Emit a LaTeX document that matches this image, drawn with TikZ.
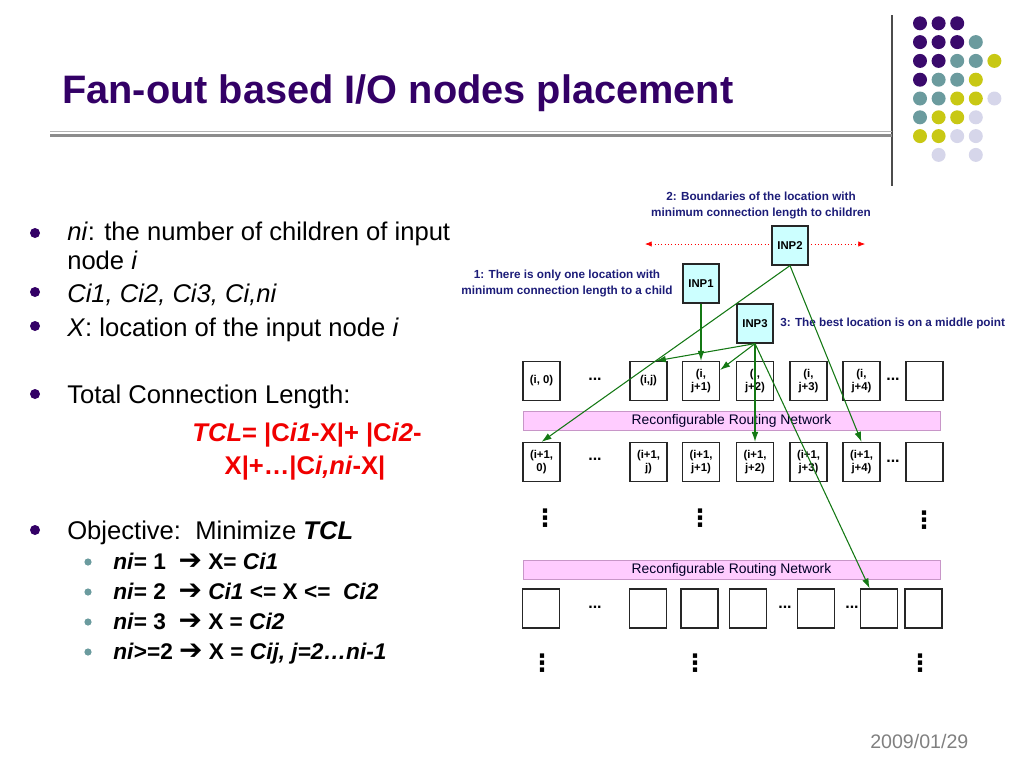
\documentclass[tikz,border=0pt]{standalone}
\usepackage{fontspec}
\setmainfont{Liberation Sans}
\newfontfamily\dingfont{DejaVu Sans}
\usepackage{tikz}
\usetikzlibrary{arrows.meta}

\definecolor{titlepurple}{RGB}{51,0,102}
\definecolor{labelnavy}{RGB}{28,28,120}
\definecolor{wiregreen}{RGB}{20,120,20}
\definecolor{inpcyan}{RGB}{204,255,255}
\definecolor{netpink}{RGB}{255,204,255}
\definecolor{netedge}{RGB}{200,150,200}
\definecolor{dotpurple}{RGB}{58,10,108}
\definecolor{dotteal}{RGB}{107,155,158}
\definecolor{dotyellow}{RGB}{200,200,20}
\definecolor{dotlilac}{RGB}{214,214,234}
\definecolor{tclred}{RGB}{240,0,0}

\newcommand{\heavyarrow}{{\dingfont\bfseries\fontsize{21}{20}\selectfont\symbol{"2794}}}
\newcommand{\colondots}{{\dingfont\bfseries\symbol{"22EE}}}

\tikzset{
  cell/.style={draw=black!85, line width=0.9pt, fill=white, minimum width=27.75pt, minimum height=29.25pt, inner sep=0pt, align=center, font=\bfseries\fontsize{8.5}{10}\selectfont},
  inpbox/.style={cell, fill=inpcyan, minimum width=27pt},
  netbar/.style={draw=netedge, line width=0.6pt, fill=netpink, minimum width=312.75pt, minimum height=14.25pt, inner sep=0pt, text=black!85!blue, font=\fontsize{10.4}{12}\selectfont},
  note/.style={text=labelnavy, align=center, inner sep=0pt, font=\bfseries\fontsize{8.8}{12}\selectfont},
  gap/.style={inner sep=0pt, font=\bfseries\fontsize{12}{12}\selectfont},
  vgap/.style={inner sep=0pt, font=\fontsize{18}{18}\selectfont},
  bodytext/.style={anchor=base west, inner sep=0pt, font=\fontsize{19.2}{23}\selectfont},
  subtext/.style={anchor=base west, inner sep=0pt, font=\bfseries\fontsize{17}{20}\selectfont},
  wire/.style={draw=wiregreen, line width=0.8pt, -{Latex[length=7.5pt,width=5pt]}},
  bound/.style={draw=red, dotted, line width=0.5pt, {Latex[length=5pt,width=4pt]}-{Latex[length=5pt,width=4pt]}}
}

\begin{document}
\begin{tikzpicture}[x=0.75pt,y=0.75pt,yscale=-1,xscale=1]
    \path[use as bounding box] (0,0) rectangle (1024,768);

    %Shape: corner dots
    \fill[dotpurple] (920,23.3) circle (7) (938.6,23.3) circle (7) (957.2,23.3) circle (7)
        (920,42.1) circle (7) (938.6,42.1) circle (7) (957.2,42.1) circle (7)
        (920,60.9) circle (7) (938.6,60.9) circle (7) (920,79.7) circle (7);
    \fill[dotteal] (975.8,42.1) circle (7) (957.2,60.9) circle (7) (975.8,60.9) circle (7)
        (938.6,79.7) circle (7) (957.2,79.7) circle (7) (920,98.5) circle (7)
        (938.6,98.5) circle (7) (920,117.3) circle (7);
    \fill[dotyellow] (994.4,60.9) circle (7) (975.8,79.7) circle (7) (957.2,98.5) circle (7)
        (975.8,98.5) circle (7) (938.6,117.3) circle (7) (957.2,117.3) circle (7)
        (920,136.1) circle (7) (938.6,136.1) circle (7);
    \fill[dotlilac] (994.4,98.5) circle (7) (975.8,117.3) circle (7) (957.2,136.1) circle (7)
        (975.8,136.1) circle (7) (938.6,154.9) circle (7) (975.8,154.9) circle (7);

    %Shape: title rules
    \draw[black!70, line width=0.9pt] (892,15) -- (892,186);
    \draw[black!30, line width=1pt] (50,131.5) -- (892,131.5);
    \draw[black!45, line width=2.4pt] (50,135.5) -- (892,135.5);

    % Text Node
    \node[anchor=base west, inner sep=0pt, text=titlepurple, font=\bfseries\fontsize{29.8}{34}\selectfont] (title) at (62,103) {Fan-out based I/O nodes placement};

    %Shape: bullets
    \fill[titlepurple] (35,233) circle (5) (35,292) circle (5) (35,326) circle (5) (35,394) circle (5) (35,530) circle (5);
    \fill[dotteal] (88,562) circle (3.6) (88,592) circle (3.6) (88,622) circle (3.6) (88,652) circle (3.6);

    % Text Node
    \node[bodytext] (ni) at (67,240) {\textit{ni}: the number of children of input};
    \node[bodytext] (nib) at (67,269) {node \textit{i}};
    \node[bodytext] (ci) at (67,302) {\textit{Ci1, Ci2, Ci3, Ci,ni}};
    \node[bodytext] (xloc) at (67,336) {\textit{X}: location of the input node \textit{i}};
    \node[bodytext] (tcl) at (67,403) {Total Connection Length:};
    \node[anchor=base, inner sep=0pt, text=tclred, font=\bfseries\fontsize{19.2}{23}\selectfont] (tcla) at (307,441) {\textit{TCL}= |C\textit{i1}-X|+ |C\textit{i2}-};
    \node[anchor=base, inner sep=0pt, text=tclred, font=\bfseries\fontsize{19.2}{23}\selectfont] (tclb) at (305,474) {X|+…|C\textit{i,ni}-X|};
    \node[bodytext] (obj) at (67,539) {Objective:\ \ Minimize \textbf{\textit{TCL}}};
    \node[subtext] (case1) at (113,569) {\textit{ni}= 1\ \ \heavyarrow\ X= \textit{Ci1}};
    \node[subtext] (case2) at (113,599) {\textit{ni}= 2\ \ \heavyarrow\ \textit{Ci1} <= X <=\ \ \textit{Ci2}};
    \node[subtext] (case3) at (113,629) {\textit{ni}= 3\ \ \heavyarrow\ X = \textit{Ci2}};
    \node[subtext] (case4) at (113,659) {\textit{ni}>=2 \heavyarrow\ X = \textit{Cij, j=2…ni-1}};

    % Text Node
    \node[anchor=base west, inner sep=0pt, text=black!50, font=\fontsize{14.7}{17}\selectfont] (date) at (870,748) {2009/01/29};

    % notes
    \node[note] (note2) at (761,205) {2: Boundaries of the location with\\minimum connection length to children};
    \node[note] (note1) at (567,283) {1: There is only one location with\\minimum connection length to a child};
    \node[note, anchor=west] (note3) at (780,323) {3: The best location is on a middle point};

    %Shape: boundary line
    \coordinate (bndl) at (645,244);
    \coordinate (bndr) at (865,244);
    \draw[bound] (bndl) -- (bndr);

    % input nodes
    \node[inpbox] (inp2) at (790,245.5) {INP2};
    \node[inpbox] (inp1) at (701,283.5) {INP1};
    \node[inpbox] (inp3) at (755,323.5) {INP3};

    % row i
    \node[cell] (a0) at (541.5,381) {(i, 0)};
    \node[gap] (ad1) at (595,379) {...};
    \node[cell] (aj) at (648.5,381) {(i,j)};
    \node[cell] (aj1) at (701,381) {(i,\\j+1)};
    \node[cell] (aj2) at (755,381) {(i,\\j+2)};
    \node[cell] (aj3) at (808.5,381) {(i,\\j+3)};
    \node[cell] (aj4) at (861.5,381) {(i,\\j+4)};
    \node[gap] (ad2) at (893,379) {...};
    \node[cell] (aend) at (924.5,381) {};

    \node[netbar] (net1) at (731.5,420.5) {Reconfigurable Routing Network};

    % row i+1
    \node[cell] (b0) at (541.5,462) {(i+1,\\0)};
    \node[gap] (bd1) at (595,459) {...};
    \node[cell] (bj) at (648.5,462) {(i+1,\\j)};
    \node[cell] (bj1) at (701,462) {(i+1,\\j+1)};
    \node[cell] (bj2) at (755,462) {(i+1,\\j+2)};
    \node[cell] (bj3) at (808.5,462) {(i+1,\\j+3)};
    \node[cell] (bj4) at (861.5,462) {(i+1,\\j+4)};
    \node[gap] (bd2) at (893,461) {...};
    \node[cell] (bend) at (924.5,462) {};

    \node[vgap] (v1) at (545,518) {\colondots};
    \node[vgap] (v2) at (700,518) {\colondots};
    \node[vgap] (v3) at (924,520) {\colondots};

    \node[netbar] (net2) at (731.5,569.5) {Reconfigurable Routing Network};

    % last row
    \node[cell] (c1) at (541,608.5) {};
    \node[gap] (cd1) at (595,607) {...};
    \node[cell] (c2) at (648,608.5) {};
    \node[cell] (c3) at (699.5,608.5) {};
    \node[cell] (c4) at (748,608.5) {};
    \node[gap] (cd2) at (785,607) {...};
    \node[cell] (c5) at (816,608.5) {};
    \node[gap] (cd3) at (852,607) {...};
    \node[cell] (c6) at (879,608.5) {};
    \node[cell] (c7) at (923.5,608.5) {};

    \node[vgap] (v4) at (542,663) {\colondots};
    \node[vgap] (v5) at (695,663) {\colondots};
    \node[vgap] (v6) at (920,663) {\colondots};

    % connections
    \draw[wire] (inp2.south) -- (b0.north);
    \draw[wire] (inp2.south) -- (bj4.north);
    \draw[wire] (inp1.south) -- (aj1.north);
    \draw[wire] (inp3.south) -- (aj.70);
    \draw[wire] (inp3.south) -- (aj1.30);
    \draw[wire] (inp3.south) -- (bj2.north);
    \draw[wire] (inp3.south) -- (c6.115);
\end{tikzpicture}
\end{document}
